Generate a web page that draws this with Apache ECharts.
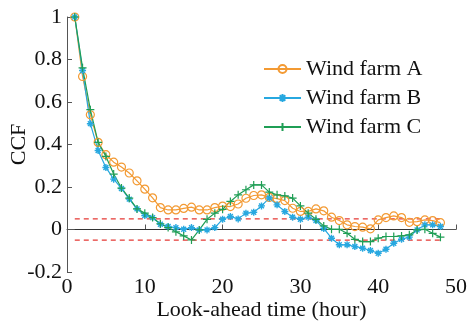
<!DOCTYPE html>
<html><head><meta charset="utf-8">
<script src="https://cdn.jsdelivr.net/npm/echarts@6/dist/echarts.min.js"></script>
<style>html,body{margin:0;padding:0;background:#fff}#c{width:468px;height:330px}</style>
</head><body><div id="c"></div>
<script>
const hours = [1,2,3,4,5,6,7,8,9,10,11,12,13,14,15,16,17,18,19,20,21,22,23,24,25,26,27,28,29,30,31,32,33,34,35,36,37,38,39,40,41,42,43,44,45,46,47,48];
const farmA = [1.0,0.72,0.54,0.41,0.352,0.317,0.294,0.266,0.229,0.19,0.149,0.103,0.092,0.092,0.099,0.105,0.092,0.092,0.103,0.11,0.108,0.12,0.147,0.16,0.163,0.151,0.145,0.136,0.1,0.085,0.085,0.097,0.088,0.058,0.042,0.022,0.014,0.011,0.003,0.045,0.056,0.064,0.056,0.034,0.037,0.045,0.042,0.032];
const farmB = [1.0,0.748,0.498,0.372,0.292,0.237,0.193,0.143,0.097,0.066,0.056,0.025,0.014,0.009,0.001,0.009,-0.002,-0.002,0.009,0.048,0.061,0.05,0.077,0.081,0.111,0.148,0.116,0.085,0.058,0.048,0.058,0.042,0.005,-0.041,-0.072,-0.072,-0.08,-0.088,-0.099,-0.112,-0.093,-0.065,-0.046,-0.036,-0.002,0.022,0.022,0.014];
const farmC = [1.0,0.761,0.564,0.41,0.344,0.261,0.195,0.148,0.097,0.077,0.056,0.027,0.009,-0.011,-0.03,-0.049,-0.002,0.048,0.077,0.095,0.132,0.163,0.187,0.21,0.21,0.176,0.163,0.158,0.148,0.111,0.077,0.048,0.017,0.001,0.001,-0.018,-0.046,-0.057,-0.057,-0.041,-0.033,-0.033,-0.03,-0.025,-0.002,0.001,-0.018,-0.036];
const seriesNames = ['Wind farm A','Wind farm B','Wind farm C'];
const thresholds = [0.05, -0.05];
const refRange = [1, 48];

const pair = arr => hours.map((h,i)=>[h,arr[i]]);
const cA='#F39A33', cB='#27A8E0', cC='#1F9E55';
const font='"Liberation Serif","Times New Roman",serif';
const star='path://M0,-1L0,1M-1,0L1,0M-0.7,-0.7L0.7,0.7M-0.7,0.7L0.7,-0.7';
const plus='path://M0,-1L0,1M-1,0L1,0';

const chart = echarts.init(document.getElementById('c'));
chart.setOption({
  animation:false,
  grid:{left:67,right:12,top:17,bottom:58,containLabel:false,outerBoundsMode:'none'},
  legend:{data:seriesNames,orient:'vertical',left:258,top:53,itemWidth:37,itemHeight:10,itemGap:7,
    textStyle:{fontFamily:font,fontSize:22,color:'#111'}},
  xAxis:{type:'value',min:0,max:50,interval:10,name:'Look-ahead time (hour)',nameLocation:'middle',nameGap:27,nameMoveOverlap:false,
    nameTextStyle:{fontFamily:font,fontSize:22,color:'#111'},
    axisLine:{lineStyle:{color:'#555',width:1}},axisTick:{inside:true,length:5,lineStyle:{color:'#555'}},
    axisLabel:{fontFamily:font,fontSize:22,color:'#111',margin:4},splitLine:{show:false}},
  yAxis:{type:'value',min:-0.2,max:1,interval:0.2,name:'CCF',nameLocation:'middle',nameGap:37,nameMoveOverlap:false,
    nameTextStyle:{fontFamily:font,fontSize:22,color:'#111'},
    axisLine:{show:true,lineStyle:{color:'#555',width:1}},axisTick:{show:true,inside:true,length:5,lineStyle:{color:'#555'}},
    axisLabel:{fontFamily:font,fontSize:22,color:'#111',margin:5},splitLine:{show:false}},
  series:[
    {name:'zero',type:'line',data:refRange.map(h=>[h,0]),symbol:'none',silent:true,lineStyle:{color:'#333',width:1},z:1},
    {name:'up',type:'line',data:refRange.map(h=>[h,thresholds[0]]),symbol:'none',silent:true,lineStyle:{color:'#E53935',width:1.2,type:[5,4]},z:1},
    {name:'low',type:'line',data:refRange.map(h=>[h,thresholds[1]]),symbol:'none',silent:true,lineStyle:{color:'#E53935',width:1.2,type:[5,4]},z:1},
    {name:seriesNames[0],type:'line',data:pair(farmA),symbol:'circle',symbolSize:8,showAllSymbol:true,
      lineStyle:{color:cA,width:1.2},itemStyle:{color:'rgba(0,0,0,0)',borderColor:cA,borderWidth:1.2}},
    {name:seriesNames[1],type:'line',data:pair(farmB),symbol:star,symbolSize:7,showAllSymbol:true,
      lineStyle:{color:cB,width:1.2},itemStyle:{color:cB,borderColor:cB,borderWidth:1.4}},
    {name:seriesNames[2],type:'line',data:pair(farmC),symbol:plus,symbolSize:8,showAllSymbol:true,
      lineStyle:{color:cC,width:1.2},itemStyle:{color:cC,borderColor:cC,borderWidth:1.2}}
  ]
});
</script></body></html>
